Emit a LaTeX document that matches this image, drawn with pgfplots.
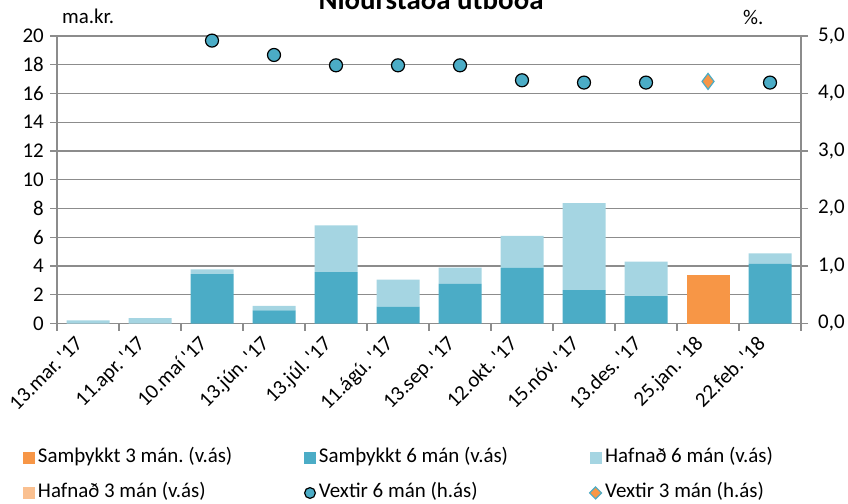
\documentclass[border=0pt]{standalone}
\usepackage{pgfplots}
\pgfplotsset{compat=1.18}
\usepackage{fontspec}
\setmainfont{Carlito}
\frenchspacing
\definecolor{cOrange}{HTML}{F79646}
\definecolor{cTeal}{HTML}{4BACC6}
\definecolor{cLight}{HTML}{A5D5E2}
\definecolor{cPeach}{HTML}{FAC090}
\definecolor{cGrid}{HTML}{8C8C8C}
\pgfplotsset{sqlegend/.style={legend image code/.code={\fill[##1] (0bp,-6bp) rectangle (12bp,6bp);}}}
\pgfplotstableread{
x s3 s6 h6 h3
0 0 0 0.22 0
1 0 0 0.38 0
2 0 3.44 0.32 0
3 0 0.92 0.30 0
4 0 3.58 3.25 0
5 0 1.18 1.88 0
6 0 2.75 1.13 0
7 0 3.88 2.22 0
8 0 2.33 6.05 0
9 0 1.90 2.41 0
10 3.39 0 0 0
11 0 4.14 0.73 0
}\bars
\begin{document}
\begin{tikzpicture}[font=\fontsize{21}{25}\selectfont]
\useasboundingbox (0,0) rectangle (848bp,504bp);
\begin{axis}[
  at={(57bp,180.5bp)}, anchor=south west, scale only axis,
  width=744bp, height=287.5bp,
  xmin=-0.5, xmax=11.5, ymin=0, ymax=20,
  ybar stacked, bar width=43bp,
  axis x line*=bottom, axis y line*=left,
  axis line style={cGrid, line width=1.2bp},
  xtick={0,...,11},
  xticklabels={13.mar. \textquotesingle17, 11.apr. \textquotesingle17, 10.maí \textquotesingle17, 13.jún. \textquotesingle17, 13.júl. \textquotesingle17, 11.ágú. \textquotesingle17, 13.sep. \textquotesingle17, 12.okt. \textquotesingle17, 15.nóv. \textquotesingle17, 13.des. \textquotesingle17, 25.jan. \textquotesingle18, 22.feb. \textquotesingle18},
  minor xtick={-0.5,0.5,...,11.5},
  tick align=outside,
  major tick length=7bp, minor tick length=7bp,
  major x tick style={draw=none},
  minor x tick style={draw=cGrid, line width=1.2bp},
  major y tick style={draw=cGrid, line width=1.2bp},
  ytick={0,2,...,20},
  ymajorgrids, major grid style={cGrid, line width=1.2bp},
  /pgf/number format/assume math mode=true,
  tick label style={font=\fontsize{21}{25}\selectfont},
  xticklabel style={xshift=-14bp, yshift=-4bp, rotate=45, anchor=north east, inner sep=0pt},
  yticklabel style={inner sep=0pt, xshift=-6bp},
  legend columns=3,
  legend style={at={(-0.0457,-0.4365)}, anchor=north west, draw=none, fill=none,
    inner sep=0pt, outer sep=0pt, row sep=17bp,
    font=\fontsize{21}{25}\selectfont,
    nodes={inner sep=0pt, text height=14bp, text depth=4bp, anchor=west},
    /tikz/every odd column/.style={column sep=3bp}},
  legend cell align=left,
]
\addplot[fill=cOrange, draw=none, sqlegend] table[x=x, y=s3] {\bars};
\addlegendentry{\makebox[266bp][l]{Samþykkt 3 mán. (v.ás)}}
\addplot[fill=cTeal, draw=none, sqlegend] table[x=x, y=s6] {\bars};
\addlegendentry{\makebox[270bp][l]{Samþykkt 6 mán (v.ás)}}
\addplot[fill=cLight, draw=none, sqlegend] table[x=x, y=h6] {\bars};
\addlegendentry{Hafnað 6 mán (v.ás)}
\addplot[fill=cPeach, draw=none, sqlegend] table[x=x, y=h3] {\bars};
\addlegendentry{\makebox[266bp][l]{Hafnað 3 mán (v.ás)}}
\addlegendimage{legend image code/.code={\draw[fill=cTeal, draw=black, line width=1.2bp] (6bp,0bp) circle[radius=5.4bp];}}
\addlegendentry{\makebox[270bp][l]{Vextir 6 mán (h.ás)}}
\addlegendimage{legend image code/.code={\draw[fill=cOrange, draw=cTeal, line width=1.2bp] (6bp,6bp) -- (12bp,0bp) -- (6bp,-6bp) -- (0bp,0bp) -- cycle;}}
\addlegendentry{Vextir 3 mán (h.ás)}
\end{axis}
\begin{axis}[
  at={(57bp,180.5bp)}, anchor=south west, scale only axis,
  width=744bp, height=287.5bp,
  xmin=-0.5, xmax=11.5, ymin=0, ymax=5,
  axis x line=none, axis y line*=right,
  axis line style={cGrid, line width=1.2bp},
  ytick={0,1,...,5},
  tick align=outside, major tick length=7bp,
  major y tick style={draw=cGrid, line width=1.2bp},
  /pgf/number format/assume math mode=true,
  yticklabel style={font=\fontsize{21}{25}\selectfont, inner sep=0pt, xshift=10bp,
    /pgf/number format/.cd, fixed, fixed zerofill, precision=1, use comma},
]
\addplot[only marks, mark=*, mark size=6.5bp, mark options={fill=cTeal, draw=black, line width=1.2bp}] coordinates {
(2,4.92) (3,4.67) (4,4.49) (5,4.49) (6,4.49) (7,4.23) (8,4.19) (9,4.19) (11,4.19)};
\addplot[only marks, mark=diamond*, mark size=8bp, mark options={fill=cOrange, draw=cTeal, line width=1.2bp}] coordinates {(10,4.21)};
\end{axis}
\node[anchor=base, font=\fontsize{29}{33}\selectfont\bfseries] at (431bp,494bp) {Niðurstaða útboða};
\node[anchor=base west, inner sep=0pt] at (62bp,480bp) {ma.kr.};
\node[anchor=base west, inner sep=0pt] at (743bp,479bp) {\%.};
\end{tikzpicture}
\end{document}
